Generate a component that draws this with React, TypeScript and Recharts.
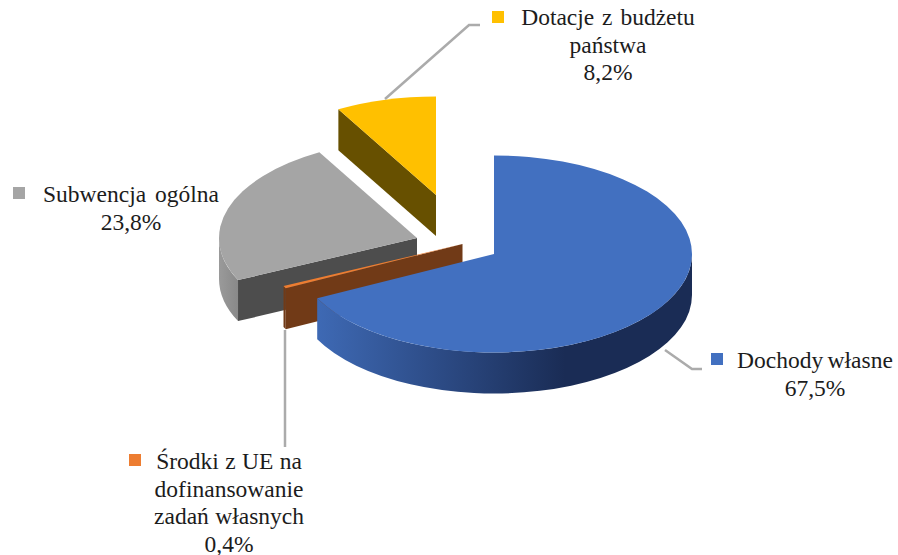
import React from 'react';
import { PieChart, Pie } from 'recharts';

const categories = [
  'Dotacje z budżetu państwa',
  'Subwencja ogólna',
  'Środki z UE na dofinansowanie zadań własnych',
  'Dochody własne',
];
const shares = [8.2, 23.8, 0.4, 67.5];
const labelLines = [
  ['Dotacje z budżetu', 'państwa'],
  ['Subwencja ogólna'],
  ['Środki z UE na', 'dofinansowanie', 'zadań własnych'],
  ['Dochody własne'],
];

const data = categories.map((name, i) => ({ name, value: shares[i] }));

// painted in data order, so the big slice goes last and sits on top
const TILT = 98.5 / 198;
const DEPTH = 41;

const looks = [
  { top: '#ffc000', cut: '#675000', wallFrom: '#7f6000', wallTo: '#7f6000', dx: -58, dy: -59, x0: 300, x1: 440 },
  { top: '#a5a5a5', cut: '#4d4d4d', wallFrom: '#9a9a9a', wallTo: '#838383', dx: -77, dy: -16, x0: 219, x1: 245 },
  { top: '#ed7d31', cut: '#713a17', wallFrom: '#713a17', wallTo: '#713a17', dx: -31.5, dy: -10, x0: 280, x1: 300 },
  { top: '#4270c0', cut: '#1b2e57', wallFrom: '#3e69b4', wallTo: '#1a2c55', dx: 0, dy: 0, x0: 318, x1: 565 },
];

const labelSpots = [
  { x: 608, y: 25, mx: 492, my: 11, spacing: [2, 0], leader: '385,99 469,25 480,25' },
  { x: 131, y: 202, mx: 13, my: 187, spacing: [3], leader: '' },
  { x: 229, y: 469, mx: 129, my: 454, spacing: [0.5, 0, 0.5], leader: '285,330 285,447' },
  { x: 815, y: 368, mx: 711, my: 353, spacing: [-1.5], leader: '665,350 692,369 702,369' },
];

const RAD = Math.PI / 180;
const LINE_STEP = 27.5;

const SliceShape = (props: any) => {
  const i = categories.indexOf(props.name);
  const look = looks[i];
  const { startAngle, endAngle, outerRadius: r } = props;
  const cx = props.cx + look.dx;
  const cy = props.cy + look.dy;
  const rx = r;
  const ry = r * TILT;
  const px = (a: number) => cx + rx * Math.cos(a * RAD);
  const py = (a: number, d = 0) => cy - ry * Math.sin(a * RAD) + d;

  const large = endAngle - startAngle > 180 ? 1 : 0;
  const topPath = `M${cx},${cy} L${px(startAngle)},${py(startAngle)} A${rx},${ry} 0 ${large} 0 ${px(endAngle)},${py(endAngle)} Z`;

  const cutFace = (a: number) =>
    `M${cx},${cy} L${px(a)},${py(a)} L${px(a)},${py(a, DEPTH)} L${cx},${cy + DEPTH} Z`;

  const lo = Math.max(startAngle, 180);
  const hi = Math.min(endAngle, 360);
  const wallPath =
    hi > lo
      ? `M${px(lo)},${py(lo)} A${rx},${ry} 0 0 0 ${px(hi)},${py(hi)} L${px(hi)},${py(hi, DEPTH)} A${rx},${ry} 0 0 1 ${px(lo)},${py(lo, DEPTH)} Z`
      : null;

  const gradId = `wall-${i}`;
  return (
    <g>
      <defs>
        <linearGradient id={gradId} gradientUnits="userSpaceOnUse" x1={look.x0} x2={look.x1} y1={0} y2={0}>
          <stop offset="0" stopColor={look.wallFrom} />
          <stop offset="1" stopColor={look.wallTo} />
        </linearGradient>
      </defs>
      {Math.cos(startAngle * RAD) > 0.001 && <path d={cutFace(startAngle)} fill={look.cut} />}
      {Math.cos(endAngle * RAD) < -0.001 && <path d={cutFace(endAngle)} fill={look.cut} />}
      {wallPath && <path d={wallPath} fill={`url(#${gradId})`} />}
      <path d={topPath} fill={look.top} />
    </g>
  );
};

const SliceLabel = (props: any) => {
  const i = categories.indexOf(props.name);
  const spot = labelSpots[i];
  const lines = labelLines[i];
  const pct = shares[i].toFixed(1).replace('.', ',') + '%';
  return (
    <g>
      {spot.leader && <polyline points={spot.leader} fill="none" stroke="#ababab" strokeWidth={2.5} />}
      <rect x={spot.mx} y={spot.my} width={12} height={12} fill={looks[i].top} />
      <text
        x={spot.x}
        y={spot.y}
        textAnchor="middle"
        fontFamily="'Liberation Serif', serif"
        fontSize={23.5}
        fill="#1c1c1c"
      >
        {lines.map((line, n) => (
          <tspan key={n} x={spot.x} y={spot.y + n * LINE_STEP} wordSpacing={spot.spacing[n]}>
            {line}
          </tspan>
        ))}
        <tspan x={spot.x} y={spot.y + lines.length * LINE_STEP}>
          {pct}
        </tspan>
      </text>
    </g>
  );
};

export default function App() {
  return (
    <div style={{ position: 'absolute', left: 0, top: 0, width: 898, height: 555, overflow: 'hidden' }}>
      <PieChart width={898} height={555} margin={{ top: 0, right: 0, bottom: 0, left: 0 }}>
        <Pie
          data={data}
          dataKey="value"
          nameKey="name"
          cx={494}
          cy={254}
          innerRadius={0}
          outerRadius={198}
          startAngle={90}
          endAngle={450}
          stroke="none"
          shape={SliceShape}
          label={SliceLabel}
          labelLine={false}
          isAnimationActive={false}
        />
      </PieChart>
    </div>
  );
}
